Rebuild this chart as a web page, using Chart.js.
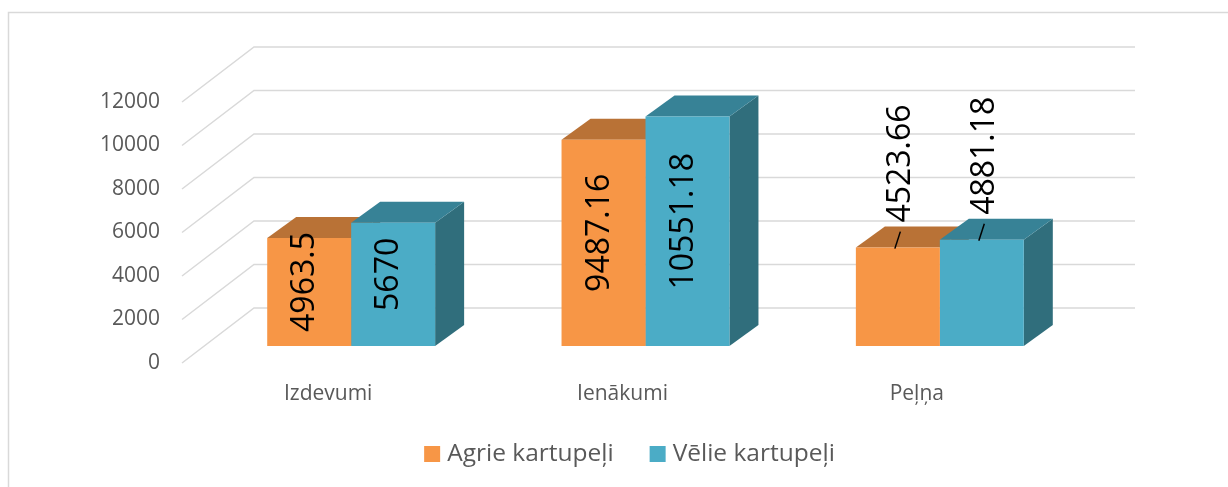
<!DOCTYPE html>
<html><head><meta charset="utf-8">
<script src="https://cdn.jsdelivr.net/npm/chart.js@4/dist/chart.umd.min.js"></script>
<style>
html,body{margin:0;padding:0;background:#fff;}
canvas{display:block}
</style></head><body>
<canvas id="c" width="1228" height="487"></canvas>
<script>
const categories = ['Izdevumi', 'Ienākumi', 'Peļņa'];
const seriesNames = ['Agrie kartupeļi', 'Vēlie kartupeļi'];
const agrie = [4963.5, 9487.16, 4523.66];
const velie = [5670, 10551.18, 4881.18];
const yTickValues = [0, 2000, 4000, 6000, 8000, 10000, 12000];
const yTickLabels = ['0', '2000', '4000', '6000', '8000', '10000', '12000'];

const FONT = '"Open Sans", "Liberation Sans", sans-serif';
const front = ['#F79646', '#4BACC6'];
const tops = ['#B97236', '#378296'];
const sides = ['#9C5F2C', '#306E7C'];
const DX = 29, DY = -21;

const threeD = {
  id: 'threeD',
  beforeDraw(chart) {
    const ctx = chart.ctx;
    ctx.save();
    ctx.strokeStyle = '#d9d9d9';
    ctx.lineWidth = 1.5;
    ctx.strokeRect(8.5, 12.5, 1400, 600);
    ctx.restore();
  },
  beforeDatasetsDraw(chart) {
    const ctx = chart.ctx, ys = chart.scales.y, ca = chart.chartArea;
    ctx.save();
    ctx.strokeStyle = '#d9d9d9';
    ctx.lineWidth = 1.5;
    ys.ticks.forEach(t => {
      const p = ys.getPixelForValue(t.value);
      ctx.beginPath();
      ctx.moveTo(ca.left - 22, p + 17);
      ctx.lineTo(ca.left + 50, p - 38);
      ctx.lineTo(ca.right + 48, p - 38);
      ctx.stroke();
    });
    const nCat = categories.length;
    for (let i = 0; i < nCat; i++) {
      chart.data.datasets.forEach((ds, di) => {
        const el = chart.getDatasetMeta(di).data[i];
        const {x, y, base, width} = el.getProps(['x', 'y', 'base', 'width'], true);
        const l = x - width / 2, r = x + width / 2;
        ctx.fillStyle = sides[di];
        ctx.beginPath();
        ctx.moveTo(r, y); ctx.lineTo(r + DX, y + DY); ctx.lineTo(r + DX, base + DY); ctx.lineTo(r, base);
        ctx.closePath(); ctx.fill();
        ctx.fillStyle = tops[di];
        ctx.beginPath();
        ctx.moveTo(l, y); ctx.lineTo(r, y); ctx.lineTo(r + DX, y + DY); ctx.lineTo(l + DX, y + DY);
        ctx.closePath(); ctx.fill();
      });
    }
    ctx.restore();
  },
  afterDatasetsDraw(chart) {
    const ctx = chart.ctx;
    ctx.save();
    ctx.font = '32px ' + FONT;
    ctx.fillStyle = '#000';
    ctx.strokeStyle = '#000';
    ctx.lineWidth = 1.5;
    chart.data.datasets.forEach((ds, di) => {
      chart.getDatasetMeta(di).data.forEach((el, i) => {
        const {x, y, base} = el.getProps(['x', 'y', 'base'], true);
        const txt = String(ds.data[i]);
        const tw = ctx.measureText(txt).width;
        const h = base - y;
        if (tw <= h) {
          ctx.save();
          ctx.translate(x - 4, (y + base) / 2 - 10);
          ctx.rotate(-Math.PI / 2);
          ctx.textAlign = 'center';
          ctx.textBaseline = 'middle';
          ctx.fillText(txt, 0, 0);
          ctx.restore();
        } else {
          ctx.beginPath();
          ctx.moveTo(x - 3, y + 1);
          ctx.lineTo(x + 2.5, y - 16);
          ctx.stroke();
          ctx.save();
          ctx.translate(x + 3.5, y - 25);
          ctx.rotate(-Math.PI / 2);
          ctx.textAlign = 'left';
          ctx.textBaseline = 'middle';
          ctx.fillText(txt, 0, 0);
          ctx.restore();
        }
      });
    });
    ctx.restore();
  },
  afterDraw(chart) {
    const ctx = chart.ctx;
    ctx.save();
    ctx.font = '24.5px ' + FONT;
    ctx.textBaseline = 'middle';
    ctx.textAlign = 'left';
    const box = 16, gapText = 7, gapItem = 36, cx = 629.5, cy = 454;
    const items = chart.data.datasets.map(ds => ({label: ds.label, color: ds.backgroundColor, w: box + gapText + ctx.measureText(ds.label).width}));
    const total = items.reduce((a, it) => a + it.w, 0) + gapItem * (items.length - 1);
    let x = cx - total / 2;
    items.forEach(it => {
      ctx.fillStyle = it.color;
      ctx.fillRect(x, cy - box / 2, box, box);
      ctx.fillStyle = '#595959';
      ctx.fillText(it.label, x + box + gapText, cy);
      x += it.w + gapItem;
    });
    ctx.restore();
  }
};

new Chart(document.getElementById('c'), {
  type: 'bar',
  data: {
    labels: categories,
    datasets: [
      {label: seriesNames[0], data: agrie, backgroundColor: front[0], borderWidth: 0},
      {label: seriesNames[1], data: velie, backgroundColor: front[1], borderWidth: 0}
    ]
  },
  options: {
    responsive: false,
    animation: false,
    devicePixelRatio: 1,
    datasets: {bar: {categoryPercentage: 0.5705, barPercentage: 1}},
    layout: {padding: {left: 60, right: 141, top: 85, bottom: 61}},
    plugins: {
      tooltip: {enabled: false},
      legend: {display: false}
    },
    scales: {
      x: {
        grid: {display: false, drawTicks: false}, border: {display: false},
        ticks: {color: '#595959', font: {family: FONT, size: 21}, padding: 35, labelOffset: -23, maxRotation: 0},
        afterFit: s => { s.height = 80; }
      },
      y: {
        min: yTickValues[0], max: yTickValues[yTickValues.length - 1],
        grid: {display: false, drawTicks: false}, border: {display: false},
        afterBuildTicks: s => { s.ticks = yTickValues.map(v => ({value: v})); },
        ticks: {
          color: '#595959', font: {family: FONT, size: 21}, padding: 44, labelOffset: 17,
          callback: v => yTickLabels[yTickValues.indexOf(v)]
        },
        afterFit: s => { s.width = 144; }
      }
    }
  },
  plugins: [threeD]
});
</script>
</body></html>
